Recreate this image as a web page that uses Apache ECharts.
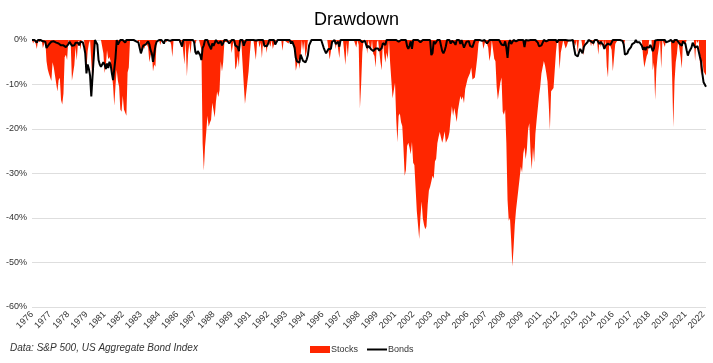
<!DOCTYPE html>
<html>
<head>
<meta charset="utf-8">
<script src="https://cdn.jsdelivr.net/npm/echarts@6/dist/echarts.min.js"></script>
<style>
html,body{margin:0;padding:0;background:#fff;}
#c{width:713px;height:363px;}
</style>
</head>
<body>
<div id="c"></div>
<script>
// Monthly categories Jan 1976 .. Jun 2022
const firstYear = 1976;
const lastYear = 2022;
const lastMonth = 6;
const categories = [];
for (let y = firstYear; y <= lastYear; y++) {
  for (let m = 1; m <= 12; m++) {
    if (y === lastYear && m > lastMonth) break;
    categories.push(y + '-' + (m < 10 ? '0' + m : m));
  }
}

// Stocks drawdown (%), monthly, one row per year
const stocks = [
/*1976*/ 0,-0.8,0,-0.8,-2.0,0,-0.5,-0.8,0,-1.8,-2.1,0,
/*1977*/ -4.8,-6.6,-7.6,-7.3,-9.2,-5.0,-6.2,-8.0,-8.0,-11.6,-9.0,-8.5,
/*1978*/ -13.5,-14.5,-12.0,-3.9,-3.3,-4.5,0,0,-0.8,-9.1,-7.4,-5.6,
/*1979*/ -1.5,-4.6,-0.5,0,-2.2,0,0,0,0,-6.5,-2.5,-0.8,
/*1980*/ 0,-0.1,-9.8,-5.9,-1.3,0,0,0,0,0,0,-3.0,
/*1981*/ -7.4,-5.9,-2.3,-4.3,-3.8,-4.8,-4.7,-10.3,-14.8,-10.3,-6.7,-9.2,
/*1982*/ -10.5,-15.6,-16.1,-12.5,-15.6,-15.5,-17.0,-7.3,-6.2,0,0,0,
/*1983*/ 0,0,0,0,-0.7,0,-2.9,-1.9,-0.9,-2.0,-0.5,-1.0,
/*1984*/ -1.7,-5.0,-3.5,-2.6,-7.1,-5.5,-6.0,0,-0.3,0,-1.1,0,
/*1985*/ 0,0,-0.3,-0.5,0,0,-0.2,-1.0,-3.8,0,0,0,
/*1986*/ 0,0,0,-1.2,0,0,-5.5,0,-8.2,-3.2,-0.7,-3.1,
/*1987*/ 0,0,0,-0.9,0,0,0,0,-2.2,-23.2,-29.4,-24.0,
/*1988*/ -20.7,-17.0,-19.5,-18.6,-17.9,-14.1,-14.4,-17.4,-13.9,-11.6,-12.8,-11.3,
/*1989*/ -4.8,-7.1,-5.0,-0.4,0,-0.5,0,0,-0.4,-2.9,-1.0,0,
/*1990*/ -6.7,-5.9,-3.6,-6.1,0,-0.6,-0.8,-10.0,-14.4,-14.8,-9.5,-7.0,
/*1991*/ -3.2,0,0,0,0,-4.5,-0.5,0,-1.7,-0.5,-4.1,0,
/*1992*/ -1.9,-0.9,-2.9,0,0,-1.5,0,-2.0,-1.0,-0.7,0,0,
/*1993*/ 0,0,0,-2.4,0,0,-0.4,0,-0.8,0,-0.9,0,
/*1994*/ 0,-2.7,-6.9,-5.7,-4.2,-6.5,-3.5,0,-2.4,-0.2,-3.9,-2.5,
/*1995*/ 0,0,0,0,0,0,0,0,0,-0.4,0,0,
/*1996*/ 0,0,0,0,0,0,-4.4,-2.6,0,0,0,-2.0,
/*1997*/ 0,0,-4.1,0,0,0,0,-5.6,-0.5,-3.9,0,0,
/*1998*/ 0,0,0,0,-1.7,0,-1.1,-15.4,-10.0,-2.7,0,0,
/*1999*/ 0,-3.1,0,0,-2.4,0,-3.1,-3.6,-6.2,-0.5,0,0,
/*2000*/ -5.0,-6.8,0,-3.1,-5.1,-2.8,-4.3,0,-5.3,-5.7,-13.1,-12.7,
/*2001*/ -9.6,-17.8,-23.0,-17.0,-16.5,-18.5,-19.3,-24.4,-30.5,-29.2,-23.8,-23.1,
/*2002*/ -24.2,-25.7,-22.9,-27.6,-28.1,-33.2,-38.4,-38.0,-44.7,-39.8,-36.3,-40.1,
/*2003*/ -41.6,-42.5,-41.9,-37.1,-33.8,-33.0,-31.8,-30.5,-31.2,-27.3,-26.7,-23.2,
/*2004*/ -21.8,-20.7,-21.9,-23.1,-22.0,-20.5,-23.1,-22.8,-21.9,-20.7,-17.6,-14.9,
/*2005*/ -17.0,-15.3,-16.8,-18.4,-15.8,-15.7,-12.6,-13.4,-12.7,-14.2,-11.0,-11.0,
/*2006*/ -8.7,-8.5,-7.4,-6.2,-8.9,-8.9,-8.4,-6.3,-3.9,-0.8,0,0,
/*2007*/ 0,-2.0,-0.9,0,0,-1.7,-4.7,-3.3,0,0,-4.2,-4.8,
/*2008*/ -10.5,-13.4,-13.8,-9.6,-8.4,-16.1,-16.8,-15.6,-23.1,-36.0,-40.6,-40.0,
/*2009*/ -45.0,-50.9,-46.6,-41.5,-38.2,-38.1,-33.4,-31.0,-28.4,-29.8,-25.5,-24.1,
/*2010*/ -26.8,-24.5,-20.0,-18.7,-25.2,-29.1,-24.1,-27.5,-21.1,-18.1,-18.1,-12.6,
/*2011*/ -10.5,-7.5,-7.5,-4.7,-5.8,-7.4,-9.3,-14.2,-20.2,-11.5,-11.7,-10.8,
/*2012*/ -6.8,-2.8,0,-0.6,-6.6,-2.8,-1.5,0,0,-1.9,-1.3,-0.4,
/*2013*/ 0,0,0,0,0,-1.3,0,-2.9,0,0,0,0,
/*2014*/ -3.5,0,0,0,0,0,-1.4,0,-1.4,0,0,-0.3,
/*2015*/ -3.3,0,-1.6,-0.7,0,-1.9,0,-6.0,-8.4,-0.6,-0.5,-2.2,
/*2016*/ -7.0,-7.2,-0.9,-0.5,0,0,0,0,0,-1.8,0,0,
/*2017*/ 0,0,0,0,0,0,0,0,0,0,0,0,
/*2018*/ 0,-3.7,-6.2,-5.9,-3.6,-3.0,0,0,0,-6.8,-5.1,-13.5,
/*2019*/ -6.6,-3.6,-1.8,0,-6.4,0,0,-1.6,0,0,0,0,
/*2020*/ 0,-8.2,-19.6,-9.3,-5.0,-3.1,0,0,-3.8,-6.4,0,0,
/*2021*/ -1.0,0,0,0,0,0,0,0,-4.7,0,-0.7,0,
/*2022*/ -5.2,-8.0,-4.6,-7.0,-7.5,-8.0
];

// Bonds drawdown (%), monthly, one row per year
const bonds = [
/*1976*/ 0,0,0,-0.2,-0.6,0,0,0,0,-0.3,-0.6,-0.4,
/*1977*/ -1.8,-1.5,-1.0,-0.6,-0.4,0,-0.3,-0.4,-0.6,-1.0,-0.8,-1.0,
/*1978*/ -1.2,-1.0,-1.2,-1.4,-1.6,-1.5,-1.0,-0.4,-0.8,-1.3,-0.9,-1.2,
/*1979*/ -0.6,-0.9,-0.6,-1.2,-0.4,0,-0.5,-1.5,-3.0,-7.5,-5.5,-6.5,
/*1980*/ -8.0,-12.7,-12.3,-4.0,0,0,-1.0,-4.5,-5.5,-6.0,-6.3,-5.0,
/*1981*/ -5.5,-6.5,-5.3,-6.3,-4.9,-5.6,-7.5,-9.0,-8.8,-4.0,0,-1.0,
/*1982*/ -0.5,0,0,0,0,-0.6,0,0,0,0,0,0,
/*1983*/ 0,0,-0.3,0,-0.6,-1.0,-3.0,-3.3,-1.2,-1.4,-1.0,-1.2,
/*1984*/ -0.3,-1.0,-2.3,-3.0,-4.9,-4.6,-1.3,-0.4,0,0,0,0,
/*1985*/ 0,-0.8,0,0,0,0,-0.2,0,0,0,0,0,
/*1986*/ 0,0,0,-0.1,-1.5,0,0,0,-0.3,0,0,0,
/*1987*/ 0,0,-0.5,-2.7,-3.2,-2.5,-2.8,-3.4,-4.5,-1.8,-1.2,0,
/*1988*/ 0,0,-0.9,-1.5,-2.1,-0.8,-1.3,-1.4,0,0,-0.8,-0.9,
/*1989*/ -0.3,-1.2,-0.7,0,0,0,0,-0.8,-0.4,0,0,0,
/*1990*/ -1.2,-1.5,-1.6,-2.5,0,0,0,-1.3,-0.5,0,0,0,
/*1991*/ 0,0,0,0,0,-0.1,0,0,0,0,0,0,
/*1992*/ -1.3,-0.9,-1.4,-0.9,0,0,0,0,0,-1.0,-1.3,0,
/*1993*/ 0,0,0,0,0,0,0,0,0,0,-0.8,-0.3,
/*1994*/ 0,-1.7,-4.0,-4.8,-4.9,-5.1,-3.3,-3.2,-4.7,-4.8,-5.0,-4.4,
/*1995*/ -3.4,-1.2,-0.6,0,0,0,0,0,0,0,0,0,
/*1996*/ 0,-1.7,-2.4,-3.0,-3.3,-2.0,-1.8,-2.0,-0.4,0,0,-0.9,
/*1997*/ -0.6,-0.4,-1.5,0,0,0,0,0,0,0,0,0,
/*1998*/ 0,0,0,0,0,0,0,0,0,-0.5,-0.4,-0.1,
/*1999*/ 0,-1.8,-1.3,-1.0,-2.0,-2.3,-2.5,-2.6,-1.9,-1.9,-1.9,-2.4,
/*2000*/ -2.5,-1.8,-0.7,-1.0,-1.1,0,0,0,0,0,0,0,
/*2001*/ 0,0,0,-0.4,-0.1,0,0,0,0,0,-1.4,-2.0,
/*2002*/ -1.3,-0.3,-2.0,0,0,0,0,0,0,-0.5,-0.5,0,
/*2003*/ 0,0,0,0,0,0,-3.4,-2.9,-0.3,-0.9,-0.7,0,
/*2004*/ 0,0,0,-2.5,-3.0,-2.4,-1.4,0,0,0,-0.8,-0.2,
/*2005*/ 0,-0.6,-1.1,0,0,0,-0.9,0,-0.9,-1.7,-1.3,-0.4,
/*2006*/ -0.4,-0.3,-1.3,-1.4,-1.6,-1.4,0,0,0,0,0,0,
/*2007*/ -0.2,0,0,0,-0.8,-1.1,0,0,0,0,0,0,
/*2008*/ 0,0,0,-0.2,-1.0,-1.1,-1.2,-0.3,-1.7,-4.0,-0.8,0,
/*2009*/ -0.9,-1.3,0,-0.4,-0.3,-0.3,0,0,0,0,0,-1.6,
/*2010*/ 0,0,-0.1,0,0,0,0,0,0,0,-0.6,-1.4,
/*2011*/ -1.3,-1.2,-1.1,0,0,-0.3,0,0,0,0,0,0,
/*2012*/ 0,0,-0.6,0,0,0,0,0,0,0,0,-0.1,
/*2013*/ 0,-0.1,0,0,-1.8,-3.3,-3.2,-3.7,-2.8,-2.0,-2.4,-3.0,
/*2014*/ -1.6,-1.1,-1.3,-0.5,0,0,-0.3,0,-0.7,0,0,0,
/*2015*/ 0,-0.9,-0.4,-0.8,-1.1,-2.0,-1.3,-1.5,-0.8,-0.8,-1.1,-1.5,
/*2016*/ 0,0,0,0,0,0,0,-0.1,-0.2,-1.0,-3.3,-3.2,
/*2017*/ -3.0,-2.3,-2.4,-1.6,-0.9,-1.0,-0.6,0,-0.5,-0.4,-0.5,-0.1,
/*2018*/ -1.3,-2.2,-1.6,-2.3,-1.6,-1.7,-1.7,-1.1,-1.7,-2.5,-1.9,-0.1,
/*2019*/ 0,0,0,0,0,0,0,0,-0.5,-0.2,-0.3,-0.4,
/*2020*/ 0,0,-0.6,0,0,0,0,-0.8,-0.9,-1.3,-0.3,-0.2,
/*2021*/ -0.9,-2.3,-3.5,-2.7,-2.4,-1.7,-0.6,-0.8,-1.7,-1.7,-1.4,-1.7,
/*2022*/ -3.8,-4.9,-7.6,-9.5,-9.8,-10.5
];

const yTicks = [0, -10, -20, -30, -40, -50, -60];

const chart = echarts.init(document.getElementById('c'), null, {renderer: 'canvas'});
const FONT = 'Liberation Sans, Arial, Helvetica, sans-serif';
chart.setOption({
  animation: false,
  backgroundColor: '#ffffff',
  textStyle: {fontFamily: FONT},
  title: {
    text: 'Drawdown',
    left: 'center',
    top: 6,
    textStyle: {fontSize: 18, fontWeight: 'normal', color: '#000', fontFamily: FONT}
  },
  legend: {
    left: 310,
    top: 345,
    padding: 0,
    itemWidth: 20,
    itemHeight: 7,
    itemGap: 9,
    textStyle: {fontSize: 9, color: '#333', fontFamily: FONT, padding: [0, 0, 0, -4]},
    data: [
      {name: 'Stocks', icon: 'rect', itemStyle: {color: '#ff2600'}},
      {name: 'Bonds', icon: 'path://M0,0H20V2H0Z', itemStyle: {color: '#000'}}
    ]
  },
  graphic: [{
    type: 'text',
    left: 10,
    top: 343,
    style: {
      text: 'Data: S&P 500, US Aggregate Bond Index',
      font: 'italic 10px ' + FONT,
      fill: '#333'
    }
  }],
  grid: {left: 32, right: 7, top: 40, bottom: 56, containLabel: false},
  xAxis: {
    type: 'category',
    data: categories,
    boundaryGap: false,
    axisLine: {show: false},
    axisTick: {show: false},
    axisLabel: {
      interval: 14,
      rotate: 45,
      fontSize: 9,
      color: '#333',
      margin: 6,
      formatter: v => v.slice(0, 4)
    },
    splitLine: {show: false}
  },
  yAxis: {
    type: 'value',
    min: -60,
    max: 0,
    interval: 10,
    axisLine: {show: false},
    axisTick: {show: false},
    axisLabel: {
      fontSize: 9,
      color: '#333',
      margin: 5,
      formatter: v => (yTicks.indexOf(v) >= 0 ? v + '%' : '')
    },
    splitLine: {lineStyle: {color: '#dedede', width: 1}}
  },
  series: [
    {
      name: 'Stocks',
      type: 'line',
      data: stocks,
      symbol: 'none',
      color: '#ff2600',
      lineStyle: {width: 0, color: '#ff2600'},
      areaStyle: {color: '#ff2600', opacity: 1},
      itemStyle: {color: '#ff2600'}
    },
    {
      name: 'Bonds',
      type: 'line',
      data: bonds,
      symbol: 'none',
      color: '#000',
      lineStyle: {width: 2, color: '#000'},
      itemStyle: {color: '#000'}
    }
  ]
});
</script>
</body>
</html>
